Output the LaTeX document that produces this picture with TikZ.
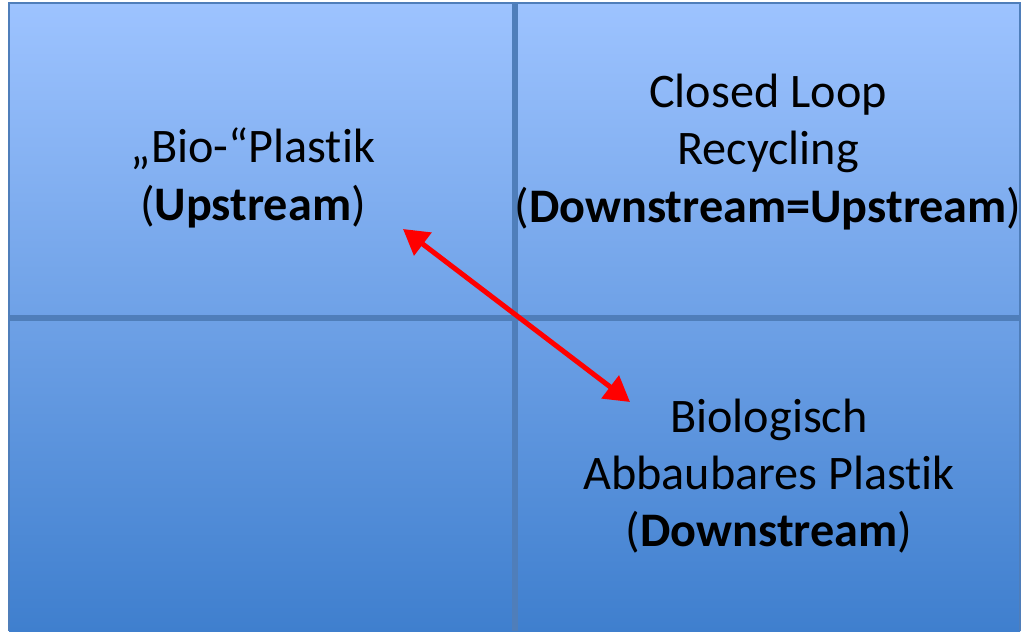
\documentclass[tikz,border=0pt]{standalone}
\usepackage{fontspec}
\setmainfont{Carlito}[Ligatures=NoCommon]
\usepackage{tikz}
\usetikzlibrary{arrows.meta}
\definecolor{paneltop}{HTML}{9DC3FF}
\definecolor{panelbottom}{HTML}{3F7FCE}
\definecolor{divider}{HTML}{4F7EBA}
\definecolor{arrowred}{HTML}{FF0000}

\begin{document}
\begin{tikzpicture}[x=0.5pt, y=-0.5pt,
  quadtext/.style={align=center, text=black, font=\fontsize{24.1}{28.6}\selectfont},
  redtip/.tip={Triangle[length=12.5pt, width=14pt]}]
  \useasboundingbox (0,0) rectangle (1021,631);
  % Define background and dividers
  \shade[top color=paneltop, bottom color=panelbottom] (9,3) rectangle (1020,631);
  \draw[divider, line width=0.8pt] (9,631) -- (9,3) -- (1020,3) -- (1020,631);
  \draw[divider, line width=2.6pt] (515,3) -- (515,631);
  \draw[divider, line width=2.6pt] (9,318) -- (1020,318);

  % Define nodes
  \node[quadtext] (bioplastik) at (253,178) {„Bio-“Plastik\\(\textbf{Upstream})};
  \node[quadtext] (closedloop) at (768,152) {Closed Loop\\Recycling\\(\textbf{Downstream=Upstream})};
  \node[quadtext] (abbaubar) at (769,476) {Biologisch\\Abbaubares Plastik\\(\textbf{Downstream})};

  % Define arrow
  \coordinate (upend) at (403,229);
  \coordinate (downend) at (630,402);
  \draw[arrowred, line width=2.5pt, redtip-redtip] (upend) -- (downend);
\end{tikzpicture}
\end{document}
